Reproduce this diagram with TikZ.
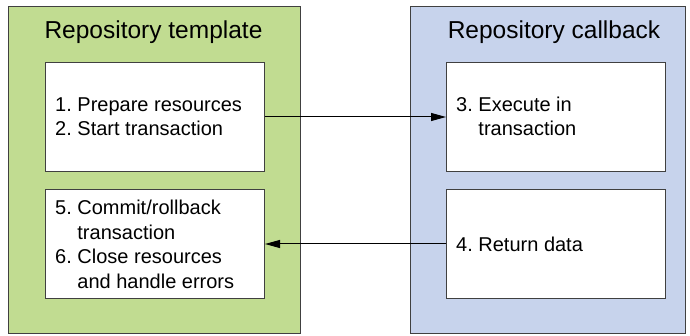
\documentclass[tikz,border=0pt]{standalone}
\usepackage{fontspec}
\setmainfont{Liberation Sans}
\usetikzlibrary{arrows.meta}
\definecolor{tgreen}{RGB}{193,220,145}
\definecolor{tblue}{RGB}{199,211,236}
\definecolor{edge}{RGB}{64,64,64}
\begin{document}
\begin{tikzpicture}[x=1pt,y=-1pt,
  outer/.style={draw=edge,line width=1pt,minimum width=#1,minimum height=327pt,inner sep=0pt,anchor=north west},
  inbox/.style={draw=edge,fill=white,line width=1pt,minimum width=219pt,minimum height=109pt,inner sep=0pt,anchor=north west},
  title/.style={font=\fontsize{24.5}{28}\selectfont,inner sep=0pt},
  body/.style={font=\fontsize{20}{24.5}\selectfont,align=left,anchor=west,inner sep=0pt},
  conn/.style={line width=1pt,-{Triangle[length=15pt,width=8pt]}}]
\useasboundingbox (0,0) rectangle (690,336);
\node[outer=292pt,fill=tgreen] (tmpl) at (8,6) {};
\node[outer=275pt,fill=tblue] (cb) at (410,6) {};
\node[title] (t1) at (153.5,32) {Repository template};
\node[title] (t2) at (554,32) {Repository callback};
\node[inbox] (b1) at (45,62) {};
\node[inbox] (b2) at (45,189) {};
\node[inbox] (b3) at (446,62) {};
\node[inbox] (b4) at (446,189) {};
\node[body] (x1) at (55,116.5) {1.~Prepare resources\\2.~Start transaction};
\node[body] (x2) at (55,244.5) {5.~Commit/rollback\\\phantom{5.~}transaction\\6.~Close resources\\\phantom{6.~}and handle errors};
\node[body] (x3) at (456,116.5) {3.~Execute in\\\phantom{3.~}transaction};
\node[body] (x4) at (456,244) {4.~Return data};
\draw[conn] (b1.east) -- (b3.west);
\draw[conn] (b4.west) -- (b2.east);
\end{tikzpicture}
\end{document}
